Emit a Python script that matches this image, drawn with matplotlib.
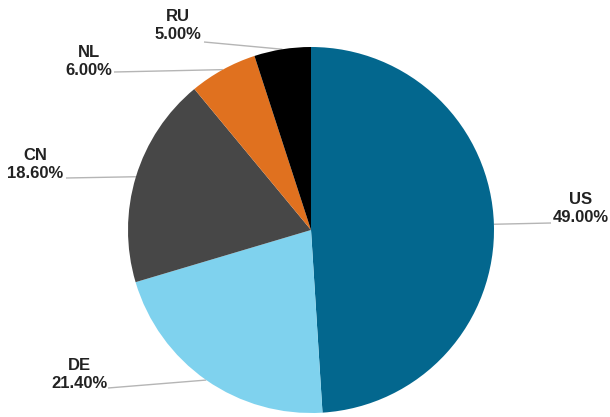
import numpy as np
import matplotlib
matplotlib.use("Agg")
import matplotlib.pyplot as plt

countries = ["US", "DE", "CN", "NL", "RU"]
shares = [49.00, 21.40, 18.60, 6.00, 5.00]
colors = ["#03678e", "#7fd2ee", "#474747", "#e0711f", "#000000"]

W, H = 610, 417
fig = plt.figure(figsize=(W / 100, H / 100), dpi=100)
ax = fig.add_axes([0, 0, 1, 1])
ax.set_xlim(0, W)
ax.set_ylim(0, H)
ax.set_aspect("auto")
ax.axis("off")

cx, cy, r = 311, H - 230, 183
wedges, _ = ax.pie(shares, colors=colors, startangle=90, counterclock=False,
                   center=(cx, cy), radius=r, frame=True,
                   wedgeprops=dict(linewidth=0))
ax.set_xlim(0, W)
ax.set_ylim(0, H)
ax.axis("off")

# label block centres (pixel coords from top-left) and leader start points
label_pos = {"US": (581, 208), "DE": (79, 374), "CN": (35, 164),
             "NL": (89, 61), "RU": (178, 25)}
leader_start = {"US": (551, 223), "DE": (108, 388), "CN": (66, 178),
                "NL": (114, 72), "RU": (204, 42)}

for w, name, val in zip(wedges, countries, shares):
    mid = np.deg2rad((w.theta1 + w.theta2) / 2)
    ex, ey = cx + r * np.cos(mid), cy + r * np.sin(mid)
    sx, sy = leader_start[name]
    ax.plot([sx, ex], [H - sy, ey], color="#b5b5b5", lw=1.0,
            solid_capstyle="butt", zorder=0.5)
    lx, ly = label_pos[name]
    ax.text(lx, H - ly, f"{name}\n{val:.2f}%", ha="center", va="center",
            fontsize=12, fontweight="bold", family="Liberation Sans",
            color="#222222", linespacing=1.25)

fig.savefig("out.png", dpi=100, facecolor="white")
